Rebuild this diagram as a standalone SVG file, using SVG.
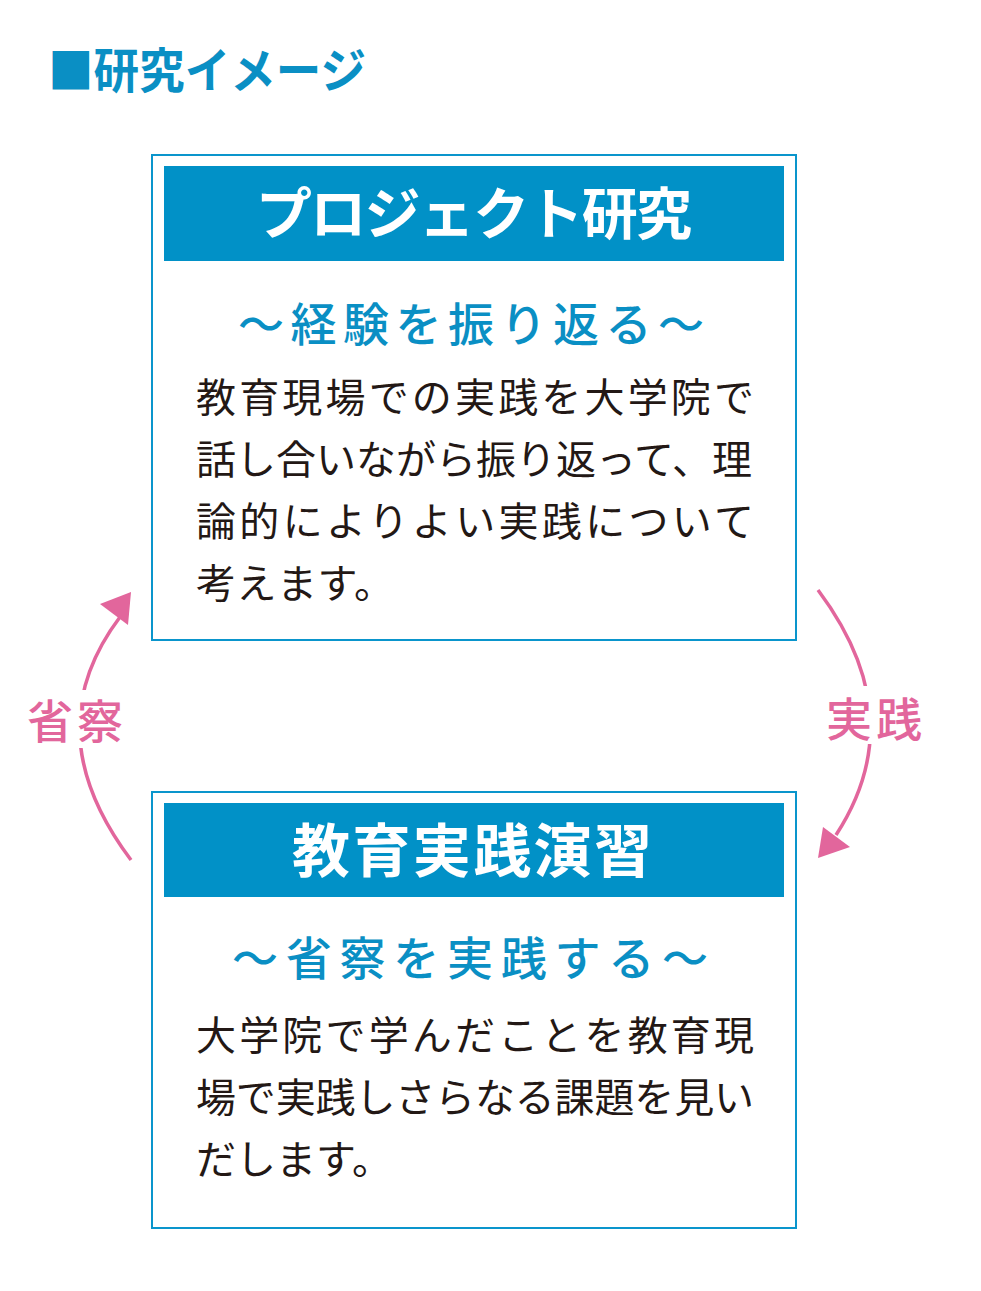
<svg xmlns="http://www.w3.org/2000/svg" width="981" height="1291" viewBox="0 0 981 1291">
<style>
text{font-family:"Noto Sans CJK JP","Noto Sans",sans-serif;}
.frame{fill:#fff;stroke:#0a95cc;stroke-width:2;}
.head{fill:#0191c7;}
.htxt{fill:#fff;font-weight:700;}
.sub{fill:#0a8fc4;font-size:46px;font-weight:500;}
.body{fill:#231815;font-size:40px;}
.pink{fill:#e2669c;font-size:46px;font-weight:500;}
.arc{fill:none;stroke:#e2669c;stroke-width:3.5;}
</style>
<rect width="981" height="1291" fill="#fff"/>
<text x="48" y="88" font-size="48" font-weight="700" fill="#0a8fc4" textLength="318" lengthAdjust="spacingAndGlyphs">■研究イメージ</text>

<g id="connectors">
<path class="arc" d="M131,860 Q34,731 120,617"/>
<polygon points="131,592 100,604 128,625" fill="#e2669c"/>
<path class="arc" d="M818,590 Q913,717 836,835"/>
<polygon points="818,858 823,827 850,847" fill="#e2669c"/>
<rect x="22" y="690" width="106" height="58" fill="#fff"/>
<text class="pink" x="27" y="738" textLength="96">省察</text>
<rect x="820" y="686" width="108" height="58" fill="#fff"/>
<text class="pink" x="826" y="736" textLength="96">実践</text>
</g>

<g id="node-project">
<rect class="frame" x="152" y="155" width="644" height="485"/>
<rect class="head" x="164" y="166" width="620" height="95"/>
<text class="htxt" x="474" y="234" font-size="56" text-anchor="middle" textLength="436">プロジェクト研究</text>
<text class="sub" x="238" y="341" textLength="466">～経験を振り返る～</text>
<text class="body" x="196" y="412" textLength="558">教育現場での実践を大学院で</text>
<text class="body" x="196" y="474" textLength="556">話し合いながら振り返って、理</text>
<text class="body" x="196" y="536" textLength="558">論的によりよい実践について</text>
<text class="body" x="196" y="598" letter-spacing="0.5">考えます。</text>
</g>

<g id="node-practice">
<rect class="frame" x="152" y="792" width="644" height="436"/>
<rect class="head" x="164" y="803" width="620" height="94"/>
<text class="htxt" x="472" y="872" font-size="58" text-anchor="middle" textLength="360">教育実践演習</text>
<text class="sub" x="232" y="975" textLength="476">～省察を実践する～</text>
<text class="body" x="196" y="1050" textLength="558">大学院で学んだことを教育現</text>
<text class="body" x="196" y="1112" textLength="558">場で実践しさらなる課題を見い</text>
<text class="body" x="196" y="1174" letter-spacing="0">だします。</text>
</g>
</svg>
